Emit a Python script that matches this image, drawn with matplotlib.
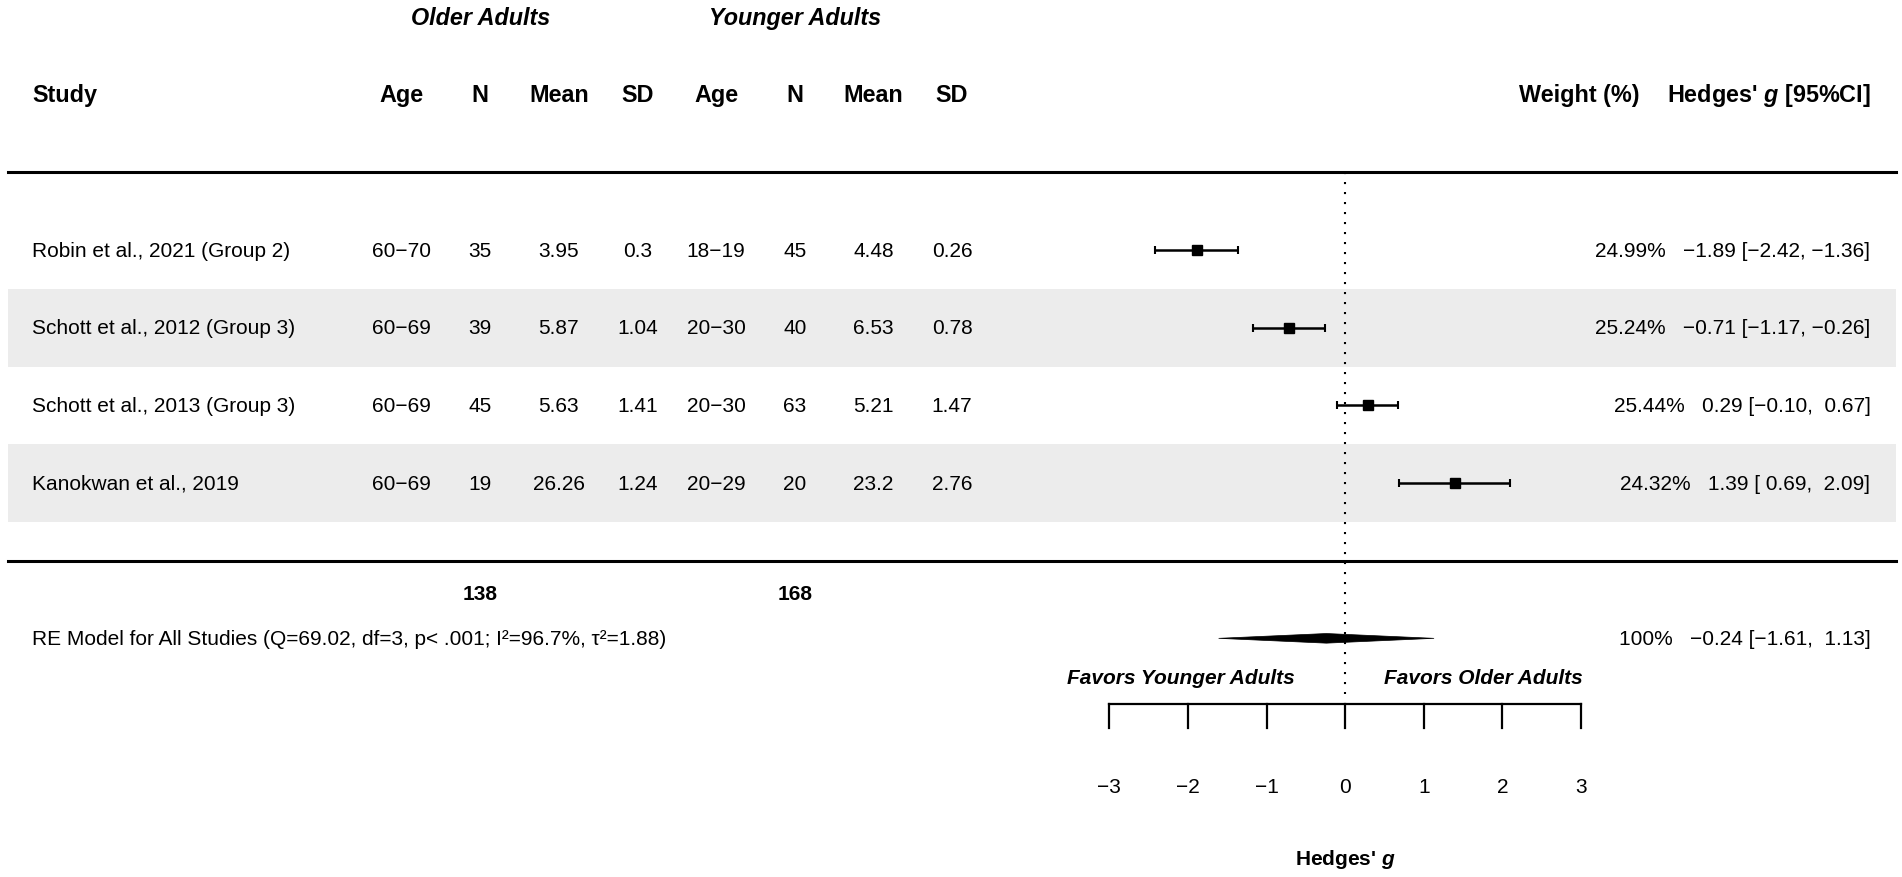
import numpy as np
import matplotlib as mpl
mpl.use('Agg')
import matplotlib.pyplot as plt

plt.rcParams['font.family'] = ['Liberation Sans', 'DejaVu Sans']
plt.rcParams['mathtext.fontset'] = 'custom'
plt.rcParams['mathtext.rm'] = 'Liberation Sans'
plt.rcParams['mathtext.it'] = 'Liberation Sans:italic:bold'
plt.rcParams['mathtext.bf'] = 'Liberation Sans:bold'

############################################################
# Data
studies = ['Robin et al., 2021 (Group 2)',
           'Schott et al., 2012 (Group 3)',
           'Schott et al., 2013 (Group 3)',
           'Kanokwan et al., 2019']
old_age = ['60\u221270', '60\u221269', '60\u221269', '60\u221269']
old_n = [35, 39, 45, 19]
old_mean = ['3.95', '5.87', '5.63', '26.26']
old_sd = ['0.3', '1.04', '1.41', '1.24']
young_age = ['18\u221219', '20\u221230', '20\u221230', '20\u221229']
young_n = [45, 40, 63, 20]
young_mean = ['4.48', '6.53', '5.21', '23.2']
young_sd = ['0.26', '0.78', '1.47', '2.76']

est = [-1.89, -0.71, 0.29, 1.39]
ci_lo = [-2.42, -1.17, -0.10, 0.69]
ci_hi = [-1.36, -0.26, 0.67, 2.09]
weight = [24.99, 25.24, 25.44, 24.32]

re_est, re_lo, re_hi = -0.24, -1.61, 1.13
re_label = ('RE Model for All Studies (Q=69.02, df=3, p< .001; '
            'I\u00b2=96.7%, \u03c4\u00b2=1.88)')
xticks = [-3, -2, -1, 0, 1, 2, 3]
col_heads = ['Age', 'N', 'Mean', 'SD', 'Age', 'N', 'Mean', 'SD']
############################################################

def fmt(v, pad=True):
    s = '%.2f' % abs(v)
    if v < 0:
        return '\u2212' + s
    return (' ' + s) if pad else s

def annot(w, e, lo, hi):
    return '%s   %s [%s, %s]' % (w, fmt(e, False), fmt(lo), fmt(hi))

fig = plt.figure(figsize=(19.02, 8.78), dpi=100)
ax = fig.add_axes([0, 0, 1, 1])
ax.set_xlim(-17.108, 7.081)
ax.set_ylim(-4.073, 7.232)
ax.axis('off')

k = len(studies)
rows = np.arange(k, 0, -1)
col_x = np.arange(-12, -4)
x_left, x_right = -17.0, 7.0
x_study = -16.7
x_annot = 6.68
fs, fs_h = 15, 16.8

# shaded bands on alternating rows
for i, r in enumerate(rows):
    if i % 2 == 1:
        ax.fill_between([x_left, x_right], r - 0.5, r + 0.5,
                        color='#ececec', lw=0, zorder=0)

# horizontal rules
ax.plot([x_left, x_right], [k + 1, k + 1], color='k', lw=2.2)
ax.plot([x_left, x_right], [0, 0], color='k', lw=2.2)

# reference line at zero
ax.plot([0, 0], [k + 1, -1.72], color='k', lw=1.5, dashes=(1, 3.8))

# headers
ax.text(x_study, k + 2, 'Study', fontsize=fs_h, fontweight='bold',
        ha='left', va='center')
for x, h in zip(col_x, col_heads):
    ax.text(x, k + 2, h, fontsize=fs_h, fontweight='bold',
            ha='center', va='center')
ax.text(-11, k + 3, 'Older Adults', fontsize=fs_h, fontweight='bold',
        style='italic', ha='center', va='center')
ax.text(-7, k + 3, 'Younger Adults', fontsize=fs_h, fontweight='bold',
        style='italic', ha='center', va='center')
ax.text(3.74, k + 2, 'Weight (%)', fontsize=fs_h, fontweight='bold',
        ha='right', va='center')
ax.text(x_annot, k + 2, "Hedges' $\\mathit{g}$ [95%CI]", fontsize=fs_h,
        fontweight='bold', ha='right', va='center')

# study rows
cols = [old_age, old_n, old_mean, old_sd,
        young_age, young_n, young_mean, young_sd]
for i, r in enumerate(rows):
    ax.text(x_study, r, studies[i], fontsize=fs, ha='left', va='center')
    for x, c in zip(col_x, cols):
        ax.text(x, r, str(c[i]), fontsize=fs, ha='center', va='center')
    ax.text(x_annot, r, annot('%.2f%%' % weight[i], est[i], ci_lo[i], ci_hi[i]),
            fontsize=fs, ha='right', va='center')

est = np.array(est)
err = [est - np.array(ci_lo), np.array(ci_hi) - est]
ax.errorbar(est, rows, xerr=err, fmt='none', ecolor='k', elinewidth=1.8,
            capsize=2.9, capthick=1.5, zorder=3)
ms = 7.5 * np.sqrt(np.array(weight) / np.mean(weight))
for e, r, m in zip(est, rows, ms):
    ax.plot(e, r, marker='s', ms=m, mfc='k', mec='k', ls='none', zorder=4)

# totals
ax.text(-11, -0.42, str(sum(old_n)), fontsize=fs, fontweight='bold',
        ha='center', va='center')
ax.text(-7, -0.42, str(sum(young_n)), fontsize=fs, fontweight='bold',
        ha='center', va='center')

# summary
ax.text(x_study, -1, re_label, fontsize=fs, ha='left', va='center')
dh = 0.062
ax.fill([re_lo, re_est, re_hi, re_est], [-1, -1 + dh, -1, -1 - dh],
        color='k', lw=0.5, zorder=3)
ax.text(x_annot, -1, annot('100%', re_est, re_lo, re_hi),
        fontsize=fs, ha='right', va='center')

# favors labels
ax.text(-2.09, -1.5, 'Favors Younger Adults', fontsize=fs, fontweight='bold',
        style='italic', ha='center', va='center')
ax.text(1.76, -1.5, 'Favors Older Adults', fontsize=fs, fontweight='bold',
        style='italic', ha='center', va='center')

# x axis
y_ax = -1.84
ax.plot([xticks[0], xticks[-1]], [y_ax, y_ax], color='k', lw=1.6)
for t in xticks:
    ax.plot([t, t], [y_ax, y_ax - 0.32], color='k', lw=1.6)
    ax.text(t, -2.91, fmt(t, False).replace('.00', ''), fontsize=fs,
            ha='center', va='center')
ax.text(0, -3.84, "Hedges' $\\mathit{g}$", fontsize=fs, fontweight='bold',
        ha='center', va='center')

plt.savefig('out.png', dpi=100)
